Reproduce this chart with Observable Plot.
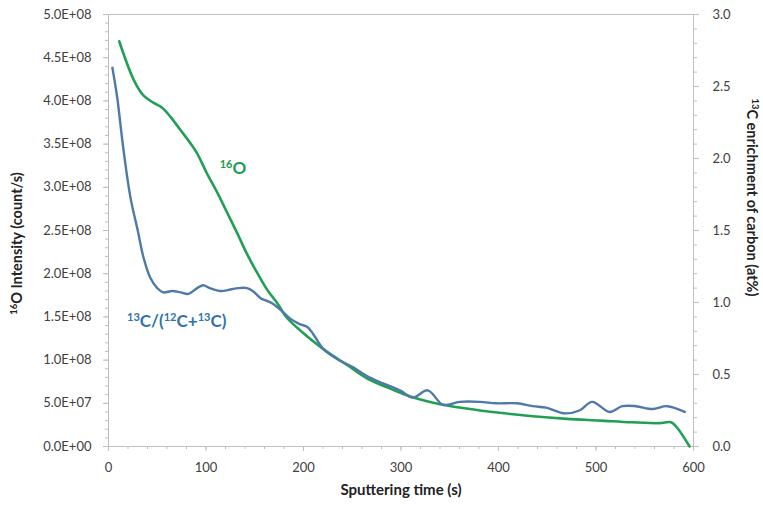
<!DOCTYPE html>
<html><head><meta charset="utf-8">
<script src="https://cdn.jsdelivr.net/npm/d3@7"></script>
<script src="https://cdn.jsdelivr.net/npm/@observablehq/plot@0.6"></script>
<style>body{margin:0;background:#fff;}</style>
</head><body><div id="chart"></div>
<script>
// 16O intensity (left axis, count/s)
const oTime = [11, 26, 36, 46, 55, 64, 74, 84, 91, 101, 112, 122, 132, 142, 153, 163, 173, 183, 197, 220, 245, 265, 289, 312, 340, 367, 401, 435, 470, 504, 537, 565, 577, 583, 596];
const oIntensity = [4.69e8, 4.24e8, 4.06e8, 3.98e8, 3.92e8, 3.81e8, 3.66e8, 3.51e8, 3.39e8, 3.16e8, 2.93e8, 2.70e8, 2.47e8, 2.23e8, 2.00e8, 1.81e8, 1.66e8, 1.49e8, 1.34e8, 1.13e8, 0.94e8, 0.79e8, 0.67e8, 0.57e8, 0.49e8, 0.44e8, 0.39e8, 0.35e8, 0.32e8, 0.30e8, 0.28e8, 0.27e8, 0.28e8, 0.22e8, 0];
// 13C enrichment (right axis, at%)
const cTime = [4, 9, 15, 22.5, 30, 36, 43, 50, 56, 65.5, 74, 82, 91, 97, 104, 115, 125, 133, 142, 148, 156, 163, 169, 178, 186, 196, 204, 210, 220, 234, 251, 265, 281, 299, 312, 327.5, 343, 360, 381, 398, 419, 435, 449, 468, 483, 496, 514, 527, 541, 558, 573, 591];
const cEnrich = [2.63, 2.42, 2.08, 1.73, 1.50, 1.31, 1.17, 1.10, 1.07, 1.08, 1.07, 1.06, 1.10, 1.12, 1.10, 1.08, 1.09, 1.10, 1.10, 1.08, 1.03, 1.01, 0.99, 0.94, 0.89, 0.85, 0.83, 0.78, 0.68, 0.61, 0.55, 0.49, 0.44, 0.39, 0.34, 0.39, 0.29, 0.31, 0.31, 0.30, 0.30, 0.28, 0.27, 0.23, 0.25, 0.31, 0.24, 0.28, 0.28, 0.26, 0.28, 0.24];

const xTicks = [0, 100, 200, 300, 400, 500, 600];
const leftTicks = [0, 5e7, 1e8, 1.5e8, 2e8, 2.5e8, 3e8, 3.5e8, 4e8, 4.5e8, 5e8];
const rightTicks = [0, 0.5, 1.0, 1.5, 2.0, 2.5, 3.0];
const xLabel = "Sputtering time (s)";
const yLeftLabel = "{16}O Intensity (count/s)";
const yRightLabel = "{13}C enrichment of carbon (at%)";
const oSeriesLabel = "{16}O";
const cSeriesLabel = "{13}C/({12}C+{13}C)";

const Y_MAX = 5e8, R_MAX = 3.0, k = Y_MAX / R_MAX;
const oData = oTime.map((t, i) => ({t, v: oIntensity[i]}));
const cData = cTime.map((t, i) => ({t, v: cEnrich[i]}));

const xMinor = d3.range(0, 601, 20);
const leftMinor = d3.range(0, 5e8 + 1, 1e7);
const rightMinor = d3.range(0, 31, 1).map(i => i / 10 * k);

function sci(d) {
  const [m, e] = d.toExponential(1).split("e");
  const n = Math.abs(+e);
  return m + "E" + (+e < 0 ? "-" : "+") + String(n).padStart(2, "0");
}

const axisColor = "#bfbfbf";
const textColor = "#404040";
const green = "#21a055";
const blue = "#4f79a8";

const chart = Plot.plot({
  width: 763, height: 508,
  marginLeft: 108, marginRight: 70, marginTop: 14, marginBottom: 62,
  style: {fontFamily: "Lato, sans-serif", fontSize: "13px", color: textColor, background: "#fff"},
  x: {domain: [0, 600]},
  y: {domain: [0, Y_MAX]},
  marks: [
    Plot.frame({stroke: axisColor}),
    Plot.axisX(xMinor, {tickSize: 3, tickFormat: () => "", label: null, stroke: axisColor}),
    Plot.axisX(xTicks, {tickSize: 5, tickPadding: 11, label: null, stroke: axisColor, fill: textColor, fontSize: 13}),
    Plot.axisY(leftMinor, {anchor: "left", tickSize: 3, tickFormat: () => "", label: null, stroke: axisColor}),
    Plot.axisY(leftTicks, {anchor: "left", tickSize: 5, tickPadding: 12, tickFormat: sci, label: null, stroke: axisColor, fill: textColor, fontSize: 13}),
    Plot.axisY(rightMinor, {anchor: "right", tickSize: 3, tickFormat: () => "", label: null, stroke: axisColor}),
    Plot.axisY(rightTicks.map(v => v * k), {anchor: "right", tickSize: 5, tickPadding: 14, tickFormat: d => (d / k).toFixed(1), label: null, stroke: axisColor, fill: textColor, fontSize: 13}),
    Plot.line(oData, {x: "t", y: "v", stroke: green, strokeWidth: 2.6, curve: "catmull-rom"}),
    Plot.line(cData, {x: "t", y: d => d.v * k, stroke: blue, strokeWidth: 2.4, curve: "catmull-rom"}),
    Plot.text([oSeriesLabel], {x: 114, y: 3.22e8, text: d => d, textAnchor: "start", fill: "#1e9a52", fontWeight: "bold", fontSize: 17}),
    Plot.text([cSeriesLabel], {x: 19, y: 0.87 * k, text: d => d, textAnchor: "start", fill: "#2f72ad", fontWeight: "bold", fontSize: 17}),
    Plot.text([yLeftLabel], {frameAnchor: "left", text: d => d, textAnchor: "middle", rotate: -90, dx: -91, dy: 13, fontWeight: "bold", fontSize: 14.5, fill: "#222"}),
    Plot.text([yRightLabel], {frameAnchor: "right", text: d => d, textAnchor: "middle", rotate: 90, dx: 58, dy: -33, fontWeight: "bold", fontSize: 14.5, fill: "#222"}),
    Plot.text([xLabel], {frameAnchor: "bottom", text: d => d, dy: 48, fontWeight: "bold", fontSize: 15, fill: "#222"})
  ]
});

function supify(el) {
  const s = el.textContent;
  if (!s.includes("{")) return;
  el.textContent = "";
  for (const p of s.split(/(\{[^}]*\})/)) {
    if (!p) continue;
    const ts = document.createElementNS("http://www.w3.org/2000/svg", "tspan");
    if (p.startsWith("{")) {
      ts.textContent = p.slice(1, -1);
      ts.setAttribute("font-size", "65%");
      ts.setAttribute("baseline-shift", "super");
    } else {
      ts.textContent = p;
    }
    el.appendChild(ts);
  }
}
chart.querySelectorAll("text").forEach(supify);
document.getElementById("chart").appendChild(chart);
</script>
</body></html>
